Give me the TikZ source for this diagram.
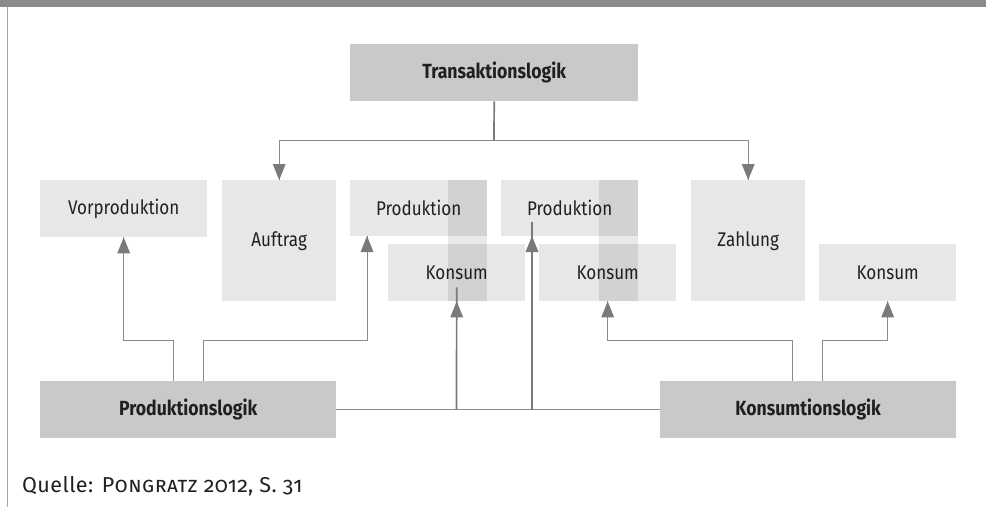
\documentclass[tikz,border=0pt]{standalone}
\usepackage{fontspec}
\setmainfont[FakeStretch=0.86,Numbers=OldStyle]{Fira Sans}
\newfontfamily\srcfont[LetterSpace=2,Numbers=OldStyle]{Fira Sans}
\usetikzlibrary{arrows.meta}
\definecolor{barcol}{HTML}{8B8B8E}
\definecolor{framecol}{HTML}{A5A5A7}
\definecolor{maincol}{HTML}{C8C9CB}
\definecolor{subcol}{HTML}{E6E7E8}
\definecolor{linecol}{HTML}{8A8A8C}
\definecolor{thickcol}{HTML}{7A7A7D}
\definecolor{txtcol}{HTML}{231F20}
\tikzset{
  mainbox/.style={fill=maincol, anchor=north west, inner sep=0pt,
    font=\fontsize{20.5}{24}\selectfont\bfseries, text=txtcol},
  subbox/.style={fill=subcol, anchor=north west, inner sep=0pt,
    font=\fontsize{19.8}{22}\selectfont, text=txtcol},
  link/.style={draw=linecol, line width=1pt},
  strong/.style={draw=thickcol, line width=1.7pt},
  overlay strip/.style={fill=black, fill opacity=0.09}
}
\begin{document}
\begin{tikzpicture}[x=1pt, y=-1pt]
  \useasboundingbox (0,0) rectangle (986,507);
  % header bar and left margin rule
  \fill[barcol] (0,0) rectangle (986,7);
  \draw[framecol, line width=1.5pt] (7.5,7) -- (7.5,507);

  % logic boxes
  \node[mainbox, minimum width=288pt, minimum height=57pt] (trans) at (350,44) {Transaktionslogik};
  \node[mainbox, minimum width=296pt, minimum height=57pt] (plog) at (40,381) {Produktionslogik};
  \node[mainbox, minimum width=296pt, minimum height=57pt] (klog) at (660,381) {Konsumtionslogik};

  % activity boxes
  \node[subbox, minimum width=167pt, minimum height=57pt] (vorp) at (40,180) {Vorproduktion};
  \node[subbox, minimum width=114pt, minimum height=121pt] (auft) at (222,180) {Auftrag};
  \node[subbox, minimum width=137pt, minimum height=56pt] (prodA) at (350,180) {Produktion};
  \node[subbox, minimum width=137pt, minimum height=57pt] (konsA) at (388,244) {Konsum};
  \node[subbox, minimum width=137pt, minimum height=56pt] (prodB) at (501,180) {Produktion};
  \node[subbox, minimum width=137pt, minimum height=57pt] (konsB) at (539,244) {Konsum};
  \node[subbox, minimum width=114pt, minimum height=121pt] (zahl) at (691,180) {Zahlung};
  \node[subbox, minimum width=137pt, minimum height=57pt] (konsC) at (819,244) {Konsum};

  % shared strips linking Produktion and Konsum
  \fill[overlay strip] (448,180) rectangle (487,301);
  \fill[overlay strip] (599,180) rectangle (638,301);

  % Transaktionslogik branches
  \coordinate (tfork) at (494,140);
  \draw[strong] (trans.south) -- (tfork);
  \draw[link] (auft.north |- tfork) -- (zahl.north |- tfork);
  \draw[link] (auft.north |- tfork) -- (auft.north);
  \draw[link] (zahl.north |- tfork) -- (zahl.north);
  \fill[thickcol] (auft.north) -- ++(-6.5,-16) -- ++(13,0) -- cycle;
  \fill[thickcol] (zahl.north) -- ++(-6.5,-16) -- ++(13,0) -- cycle;

  % Produktionslogik branches
  \coordinate (pa) at (173,381);
  \coordinate (pb) at (203,381);
  \coordinate (prodAin) at (367,236);
  \draw[link] (pa) -- (173,340.5) -| (vorp.south);
  \draw[link] (pb) -- (203,340.5) -| (prodAin);
  \fill[thickcol] (vorp.south) -- ++(-6.5,16) -- ++(13,0) -- cycle;
  \fill[thickcol] (prodAin) -- ++(-6.5,16) -- ++(13,0) -- cycle;

  % link between both logics
  \draw[link] (plog.east) -- (klog.west);
  \coordinate (jA) at (456.5,409);
  \coordinate (jB) at (532,409.8);
  \coordinate (prodBin) at (532,236);
  \draw[strong] (jA) -- ([yshift=14pt]konsA.south);
  \draw[strong] (jB) -- ([yshift=14pt]prodBin);
  \fill[thickcol] (konsA.south) -- ++(-6.5,16) -- ++(13,0) -- cycle;
  \fill[thickcol] (prodBin) -- ++(-6.5,16) -- ++(13,0) -- cycle;

  % Konsumtionslogik branches
  \coordinate (ka) at (792,381);
  \coordinate (kb) at (822.5,381);
  \draw[link] (ka) -- (792,340.5) -| (konsB.south);
  \draw[link] (kb) -- (822.5,340.5) -| (konsC.south);
  \fill[thickcol] (konsB.south) -- ++(-6.5,16) -- ++(13,0) -- cycle;
  \fill[thickcol] (konsC.south) -- ++(-6.5,16) -- ++(13,0) -- cycle;

  % source line
  \node[anchor=base west, inner sep=0pt, text=txtcol, font=\srcfont\fontsize{21.5}{24}\selectfont] (src) at (22,492)
    {Quelle: \textsc{Pongratz 2012}, S. 31};
\end{tikzpicture}
\end{document}
